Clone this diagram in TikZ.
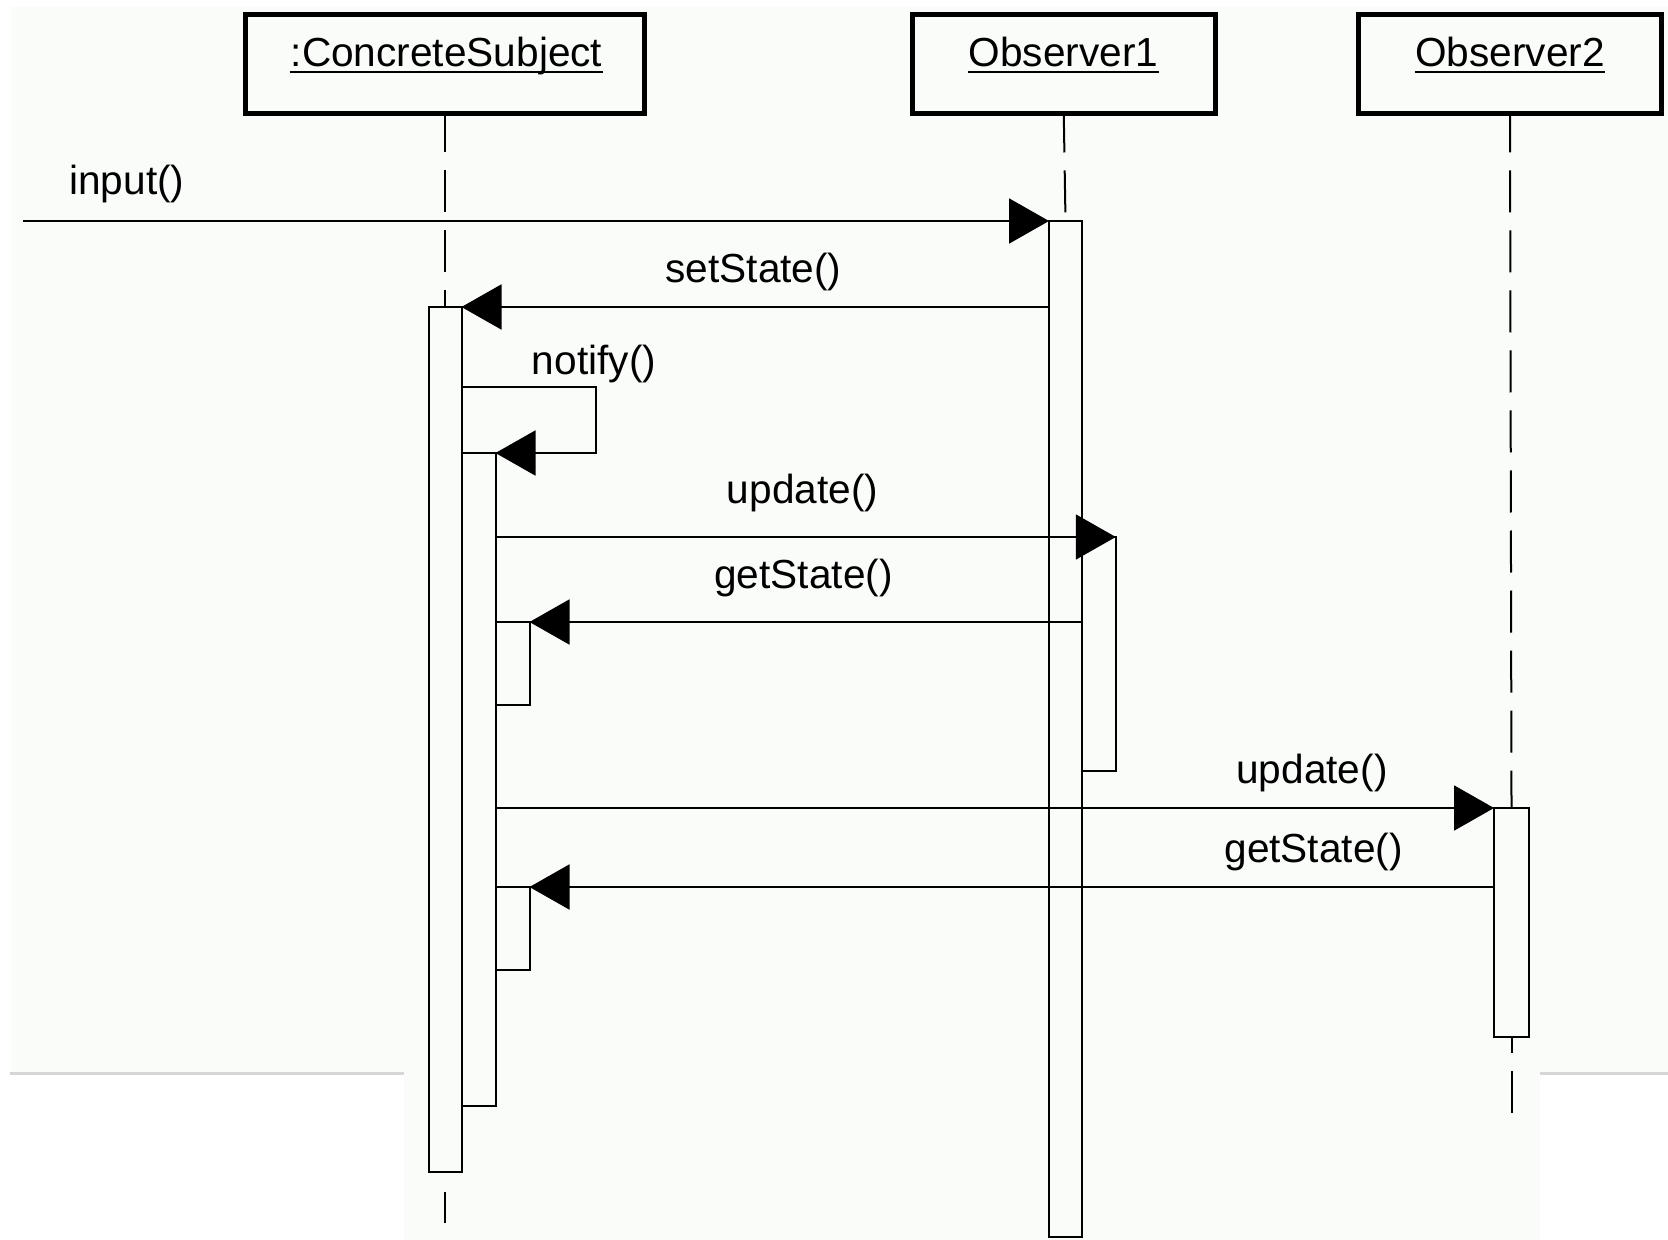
\documentclass[tikz,border=0pt]{standalone}
\usepackage{fontspec}
\setmainfont{Liberation Sans}
\usetikzlibrary{arrows.meta}
\definecolor{bgtint}{RGB}{250,252,250}
\definecolor{edgegray}{RGB}{214,214,214}
\pgfdeclarelayer{backfill}
\pgfdeclarelayer{lifelines}
\pgfsetlayers{backfill,lifelines,main}
\begin{document}
\begin{tikzpicture}[x=0.5pt,y=-0.5pt,
  objbox/.style={draw, line width=2.5pt, inner sep=0pt, outer sep=0pt, minimum height=49.5pt},
  objname/.style={inner sep=0pt, anchor=base, font=\fontsize{20.3}{24}\selectfont},
  msglabel/.style={inner sep=0pt, anchor=base, font=\fontsize{20.3}{24}\selectfont},
  actbar/.style={draw, line width=1pt, fill=bgtint, inner sep=0pt, outer sep=0pt, anchor=north},
  lifeline/.style={line width=1pt, dash pattern=on 21pt off 9pt},
  msg/.style={line width=1pt, -{Triangle[length=20pt,width=22.5pt]}},
  uline/.style={line width=1pt},
]
\useasboundingbox (0,0) rectangle (1668,1240);
% background
\begin{pgfonlayer}{backfill}
\fill[white] (0,0) rectangle (1668,1240);
\fill[bgtint] (11,7) -- (1668,7) -- (1668,1072) -- (1540,1072) -- (1540,1240)
  -- (404,1240) -- (404,1072) -- (11,1072) -- cycle;
\draw[edgegray, line width=1.5pt] (10,1073) -- (404,1073);
\draw[edgegray, line width=1.5pt] (1540,1073) -- (1668,1073);
\end{pgfonlayer}

% object boxes
\node[objbox, minimum width=199.5pt] (cs) at (445,63.7) {};
\node[objbox, minimum width=151.25pt] (ob1) at (1063.75,63.7) {};
\node[objbox, minimum width=151.15pt] (ob2) at (1510,63.7) {};
\node[objname] (csl) at (446.5,67) {:ConcreteSubject};
\node[objname] (ob1l) at (1063.5,67) {Observer1};
\node[objname] (ob2l) at (1510,67) {Observer2};
\draw[uline] ([yshift=-2.6pt]csl.base west) -- ([yshift=-2.6pt]csl.base east);
\draw[uline] ([yshift=-2.6pt]ob1l.base west) -- ([yshift=-2.6pt]ob1l.base east);
\draw[uline] ([yshift=-2.6pt]ob2l.base west) -- ([yshift=-2.6pt]ob2l.base east);

% activation bars
\node[actbar, minimum width=16.5pt, minimum height=432.5pt] (cs1) at (445,307) {};
\node[actbar, minimum width=17pt, minimum height=326.5pt] (cs2) at (478.5,453) {};
\node[actbar, minimum width=17pt, minimum height=41.5pt] (cs3) at (512.5,622) {};
\node[actbar, minimum width=17pt, minimum height=41.5pt] (cs4) at (512.5,887) {};
\node[actbar, minimum width=16.5pt, minimum height=508pt] (o1a) at (1065.5,221) {};
\node[actbar, minimum width=16.75pt, minimum height=117pt] (o1b) at (1099,537) {};
\node[actbar, minimum width=17.5pt, minimum height=114.5pt] (o2a) at (1511.5,808) {};

% lifelines (behind the bars)
\coordinate (o2end) at (1511.5,1113);
\coordinate (csend) at (445,1223);
\begin{pgfonlayer}{lifelines}
\draw[lifeline, dash phase=1.35pt] (cs.south) -- (cs1.north);
\draw[lifeline, dash phase=1.35pt] (ob1.south) -- (o1a.north);
\draw[lifeline, dash phase=1.35pt] (ob2.south) -- (o2a.north);
\draw[lifeline, dash phase=13pt] (o2a.south) -- (o2end);
\draw[line width=1pt, dash pattern=on 15.5pt off 10pt, dash phase=15.5pt] (cs1.south) -- (csend);
\end{pgfonlayer}

% messages
\coordinate (inStart) at (23,221);
\coordinate (nfyA) at (596,387);
\draw[msg] (inStart) -- (o1a.north west);
\draw[msg] (o1a.west |- cs1.north) -- (cs1.north east);
\draw[msg] (cs1.east |- nfyA) -- (nfyA) -- (nfyA |- cs2.north) -- (cs2.north east);
\draw[msg] (cs2.east |- o1b.north) -- (o1b.north east);
\draw[msg] (o1b.west |- cs3.north) -- (cs3.north east);
\draw[msg] (cs2.east |- o2a.north) -- (o2a.north west);
\draw[msg] (o2a.west |- cs4.north) -- (cs4.north east);

% message labels
\node[msglabel, anchor=base west] (l1) at (69,195) {input()};
\node[msglabel] (l2) at (753.5,283) {setState()};
\node[msglabel] (l3) at (594,375) {notify()};
\node[msglabel] (l4) at (802.5,503) {update()};
\node[msglabel] (l5) at (803.5,588) {getState()};
\node[msglabel] (l6) at (1312,783) {update()};
\node[msglabel] (l7) at (1313.6,862) {getState()};
\end{tikzpicture}
\end{document}
